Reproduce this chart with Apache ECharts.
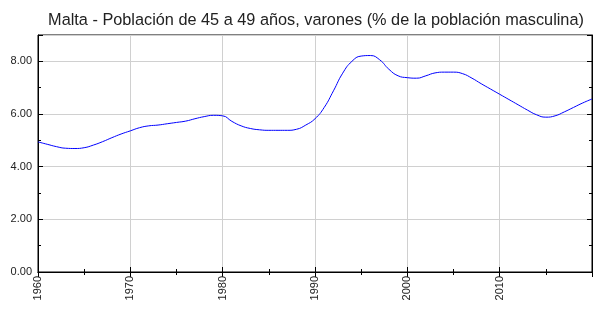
<!DOCTYPE html>
<html><head><meta charset="utf-8">
<script src="https://cdn.jsdelivr.net/npm/echarts@6/dist/echarts.min.js"></script>
<style>html,body{margin:0;padding:0;background:#fff}#c{width:600px;height:315px}</style>
</head><body><div id="c"></div>
<script>
var titleText = "Malta - Población de 45 a 49 años, varones (% de la población masculina)";
var years = [1960,1961,1962,1963,1964,1965,1966,1967,1968,1969,1970,1971,1972,1973,1974,1975,1976,1977,1978,1979,1980,1981,1982,1983,1984,1985,1986,1987,1988,1989,1990,1991,1992,1993,1994,1995,1996,1997,1998,1999,2000,2001,2002,2003,2004,2005,2006,2007,2008,2009,2010,2011,2012,2013,2014,2015,2016,2017,2018,2019,2020];
var values = [4.94,4.85,4.76,4.70,4.69,4.72,4.82,4.95,5.10,5.24,5.36,5.48,5.55,5.58,5.63,5.68,5.73,5.82,5.90,5.95,5.93,5.72,5.55,5.45,5.40,5.38,5.38,5.38,5.42,5.58,5.82,6.25,6.88,7.55,8.00,8.20,8.22,8.06,7.70,7.45,7.38,7.36,7.45,7.56,7.59,7.59,7.53,7.36,7.15,6.95,6.75,6.55,6.35,6.15,5.97,5.88,5.93,6.08,6.25,6.42,6.57];
var xMin = 1960, xMax = 2020, xStep = 10;
var yMin = 0, yMax = 9, yStep = 2;

var chart = echarts.init(document.getElementById('c'), null, {renderer:'canvas'});
var data = years.map(function(y,i){return [y, values[i]];});
var font = 'Liberation Sans, Arial, sans-serif';
chart.setOption({
  animation:false,
  title:{text:titleText,left:311,textAlign:'center',top:8,textStyle:{fontFamily:font,fontSize:16.3,fontWeight:'normal',color:'#222'}},
  grid:{left:38,right:8,top:35,bottom:43,show:true,borderColor:'#000',borderWidth:1},
  xAxis:[{type:'value',min:xMin,max:xMax,interval:xStep,
    axisLine:{show:true,lineStyle:{color:'#000'}},
    axisTick:{show:true,inside:true,length:5,lineStyle:{color:'#000'}},
    minorTick:{show:true,splitNumber:2,length:3,lineStyle:{color:'#000'}},
    splitLine:{show:true,lineStyle:{color:'#d0d0d0'}},
    axisLabel:{rotate:90,fontFamily:font,fontSize:11,color:'#222',margin:4,showMaxLabel:false,formatter:function(v){return String(v);}}},
   {type:'value',position:'top',min:xMin,max:xMax,interval:xStep,
    axisLine:{show:true,lineStyle:{color:'#000'}},
    axisTick:{show:true,inside:true,length:5,lineStyle:{color:'#000'}},
    minorTick:{show:true,splitNumber:2,length:3,lineStyle:{color:'#000'}},
    splitLine:{show:false},axisLabel:{show:false}}],
  yAxis:[{type:'value',min:yMin,max:yMax,interval:yStep,
    axisLine:{show:true,lineStyle:{color:'#000'}},
    axisTick:{show:true,inside:true,length:5,lineStyle:{color:'#000'}},
    minorTick:{show:true,splitNumber:2,length:3,lineStyle:{color:'#000'}},
    splitLine:{show:true,lineStyle:{color:'#d0d0d0'}},
    axisLabel:{fontFamily:font,fontSize:11,color:'#222',margin:6,showMaxLabel:false,formatter:function(v){return v.toFixed(2);}}},
   {type:'value',position:'right',min:yMin,max:yMax,interval:yStep,
    axisLine:{show:true,lineStyle:{color:'#000'}},
    axisTick:{show:true,inside:true,length:5,lineStyle:{color:'#000'}},
    minorTick:{show:true,splitNumber:2,length:3,lineStyle:{color:'#000'}},
    splitLine:{show:false},axisLabel:{show:false}}],
  series:[{type:'line',data:data,smooth:true,showSymbol:false,lineStyle:{color:'#0000ff',width:1},itemStyle:{color:'#0000ff'}}]
});
</script></body></html>
